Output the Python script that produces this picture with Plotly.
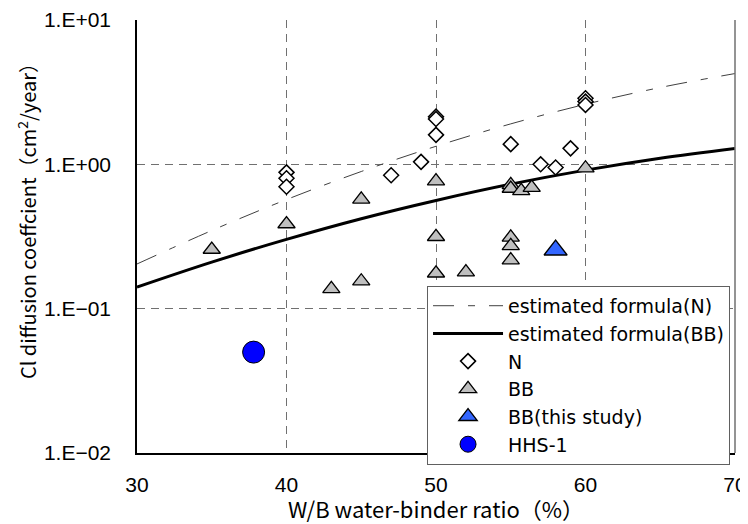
import plotly.graph_objects as go

# ---- data ----
curve_wb = [30, 35, 40, 45, 50, 55, 60, 65, 70]
curve_n = [0.204, 0.348, 0.570, 0.892, 1.334, 1.907, 2.606, 3.406, 4.256]
curve_bb = [0.141, 0.210, 0.302, 0.420, 0.562, 0.729, 0.912, 1.103, 1.288]

n_x = [40, 40, 40, 47, 49, 50, 50, 50, 55, 57, 58, 59, 60, 60, 60]
n_y = [0.88, 0.80, 0.70, 0.84, 1.04, 2.14, 2.06, 1.60, 1.38, 1.00, 0.95, 1.29, 2.87, 2.72, 2.58]

bb_x = [35, 40, 43, 45, 45, 50, 50, 50, 52, 55, 55, 55.7, 56.4, 55, 55, 55, 60]
bb_y = [0.257, 0.386, 0.137, 0.155, 0.572, 0.766, 0.315, 0.176, 0.179,
        0.72, 0.68, 0.655, 0.69, 0.312, 0.272, 0.217, 0.94]

study_x = [58]
study_y = [0.255]

hhs_x = [37.8]
hhs_y = [0.050]

y_tickvals = [0.01, 0.1, 1, 10]
y_ticktext = ["1.E\u221202", "1.E\u221201", "1.E+00", "1.E+01"]
x_tickvals = [30, 40, 50, 60, 70]

JP = "Noto Sans CJK JP"
LEG = "DejaVu Sans"
TICK = "Liberation Sans"

fig = go.Figure()
fig.add_trace(go.Scatter(x=curve_wb, y=curve_n, mode="lines", name="estimated formula(N)",
                         line=dict(color="#404040", width=1, dash="21px,14px,7px,14px", shape="spline")))
fig.add_trace(go.Scatter(x=curve_wb, y=curve_bb, mode="lines", name="estimated formula(BB)",
                         line=dict(color="black", width=3, shape="spline")))
fig.add_trace(go.Scatter(x=n_x, y=n_y, mode="markers", name="N",
                         marker=dict(symbol="diamond", size=11.5, color="white",
                                     line=dict(color="black", width=1.5))))
fig.add_trace(go.Scatter(x=bb_x, y=bb_y, mode="markers", name="BB",
                         marker=dict(symbol="triangle-up", size=15, color="#BFBFBF",
                                     line=dict(color="black", width=1.3))))
fig.add_trace(go.Scatter(x=study_x, y=study_y, mode="markers", name="BB(this study)",
                         marker=dict(symbol="triangle-up", size=20, color="#3366FF",
                                     line=dict(color="black", width=1.3))))
fig.add_trace(go.Scatter(x=hhs_x, y=hhs_y, mode="markers", name="HHS-1",
                         marker=dict(symbol="circle", size=22, color="#0000FF",
                                     line=dict(color="black", width=1))))

grid = dict(gridcolor="#707070", gridwidth=1, griddash="8px,6px")
fig.update_xaxes(range=[30, 70], tickvals=x_tickvals, showline=True, linecolor="black", linewidth=1.5,
                 ticks="", ticklabelstandoff=12, automargin=False,
                 tickfont=dict(family=TICK, size=21, color="black"),
                 zeroline=False, **grid)
fig.update_yaxes(type="log", range=[-2, 1], tickvals=y_tickvals, ticktext=y_ticktext,
                 showline=True, linecolor="black", linewidth=1.5, ticks="", ticklabelstandoff=20,
                 automargin=False,
                 tickfont=dict(family=TICK, size=21, color="black"), zeroline=False, **grid)

# right border (solid gray)
fig.add_shape(type="line", xref="paper", yref="paper", x0=1, x1=1, y0=0, y1=1,
              line=dict(color="#707070", width=1.5))

fig.add_annotation(text="Cl diffusion coeffcient\uff08cm<sup>2</sup>/year\uff09", textangle=-90,
                   xref="paper", yref="paper", x=-0.184, y=0.547, xanchor="center", yanchor="middle",
                   showarrow=False, font=dict(family=JP, size=20, color="black"))
fig.add_annotation(text="W/B water-binder ratio\uff08%\uff09",
                   xref="paper", yref="paper", x=0.5, y=-0.128, xanchor="center", yanchor="middle",
                   showarrow=False, borderpad=0, font=dict(family=JP, size=22, color="black"))

# page body adds an 8px offset, so the figure is shrunk/offset by 8px
fig.update_layout(
    width=740, height=516,
    margin=dict(l=129, r=13, t=12, b=71, autoexpand=False),
    plot_bgcolor="white", paper_bgcolor="white",
    showlegend=True,
    legend=dict(x=0.485, y=0.386, xanchor="left", yanchor="top",
                bgcolor="white", bordercolor="#606060", borderwidth=1,
                itemwidth=70, font=dict(family=LEG, size=19, color="black"),
                tracegroupgap=0),
)

fig.write_html("out.html")
